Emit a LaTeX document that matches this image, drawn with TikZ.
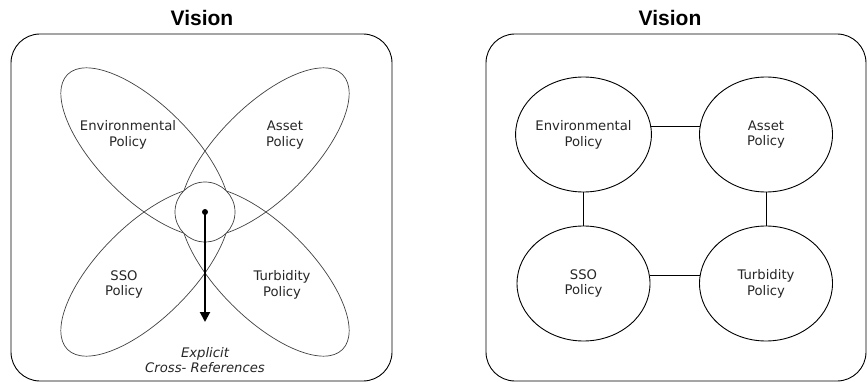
\documentclass[tikz,border=0pt]{standalone}
\usepackage{fontspec}
\setmainfont{DejaVu Sans}
\setsansfont{Liberation Sans}
\usepackage{tikz}
\usetikzlibrary{positioning}
\usetikzlibrary{shapes.geometric, arrows.meta}

\newcommand{\labelfont}{\fontsize{13.2}{15.8}\selectfont}
\newcommand{\headfont}{\sffamily\bfseries\fontsize{21}{25}\selectfont}

\tikzset{
    panel/.style={draw=black, line width=0.9pt, rounded corners=29pt},
    petal/.style={ellipse, draw=black!75, line width=0.7pt, inner sep=0pt, outer sep=0pt,
        minimum width=220pt, minimum height=93pt},
    policy/.style={ellipse, draw=black, line width=0.9pt, inner sep=0pt, outer sep=0pt,
        minimum width=133pt, minimum height=115pt, align=center, font=\labelfont, text=black!85},
    lbl/.style={align=center, font=\labelfont, text=black!85},
    head/.style={font=\headfont},
    link/.style={draw=black, line width=0.9pt}
}

\begin{document}
\begin{tikzpicture}[x=1pt, y=-1pt]
        \useasboundingbox (0,0) rectangle (867,382);
        % Titles
        \node[head] (visionL) at (202,17.5) {Vision};
        \node[head] (visionR) at (670,17.5) {Vision};
        % Frames
        \draw[panel] (11,34) rectangle (392,381);
        \draw[panel] (486,34) rectangle (866,381);
        % Left: overlapping policies
        \foreach \n/\x/\y/\a in {envL/145.3/152.3/-45, assetL/264.7/152.3/45,
                                 ssoL/145.3/271.7/45, turbL/264.7/271.7/-45}
            \node[petal, rotate=\a] (\n) at (\x,\y) {};
        \node[circle, draw=black!75, fill=white, line width=0.7pt, minimum size=60pt, inner sep=0pt] (ring) at (205,212) {};
        \node[circle, fill=black, minimum size=6pt, inner sep=0pt] (hub) at (205,212) {};
        \coordinate (tip) at (205,322);
        \draw[line width=2pt, -{Triangle[length=10pt, width=10pt]}] (hub.center) -- (tip);
        \node[lbl] (envLtxt) at (128,135) {Environmental\\Policy};
        \node[lbl] (assetLtxt) at (285,135) {Asset\\Policy};
        \node[lbl] (ssoLtxt) at (124,284.5) {SSO\\Policy};
        \node[lbl] (turbLtxt) at (282,284.5) {Turbidity\\Policy};
        \node[lbl, font=\labelfont\itshape] (xref) at (205,360) {Explicit\\Cross- References};
        % Right: linked policies
        \node[policy] (envR) at (583.5,134.5) {Environmental\\Policy};
        \node[policy] (assetR) at (766,134.5) {Asset\\Policy};
        \node[policy] (ssoR) at (583.5,283.5) {SSO\\Policy};
        \node[policy] (turbR) at (766,283.5) {Turbidity\\Policy};
        \draw[link] ([yshift=8pt]envR.east) -- ([yshift=8pt]assetR.west);
        \draw[link] ([yshift=8pt]ssoR.east) -- ([yshift=8pt]turbR.west);
        \draw[link] (envR.south) -- (ssoR.north);
        \draw[link] (assetR.south) -- (turbR.north);
    \end{tikzpicture}
\end{document}
